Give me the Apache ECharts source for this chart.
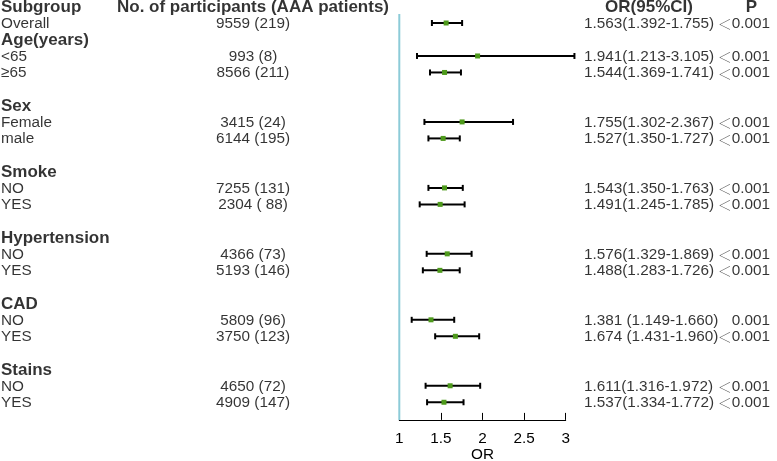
<!DOCTYPE html>
<html>
<head>
<meta charset="utf-8">
<script src="https://cdn.jsdelivr.net/npm/echarts@6/dist/echarts.min.js"></script>
<style>html,body{margin:0;padding:0;background:#fff}#c{width:777px;height:461px}</style>
</head>
<body>
<div id="c"></div>
<script>
// ---------- data ----------
const headers = ['Subgroup', 'No. of participants (AAA patients)', 'OR(95%CI)', 'P'];
const subgroups = ['Overall','Age(years)','<65','≥65','','Sex','Female','male','','Smoke','NO','YES','','Hypertension','NO','YES','','CAD','NO','YES','','Stains','NO','YES'];
const groupHeader = [false,true,false,false,false,true,false,false,false,true,false,false,false,true,false,false,false,true,false,false,false,true,false,false];
const participants = ['9559 (219)','','993 (8)','8566 (211)','','','3415 (24)','6144 (195)','','','7255 (131)','2304 ( 88)','','','4366 (73)','5193 (146)','','','5809 (96)','3750 (123)','','','4650 (72)','4909 (147)'];
const orMean  = [1.563,null,1.941,1.544,null,null,1.755,1.527,null,null,1.543,1.491,null,null,1.576,1.488,null,null,1.381,1.674,null,null,1.611,1.537];
const orLower = [1.392,null,1.213,1.369,null,null,1.302,1.350,null,null,1.350,1.245,null,null,1.329,1.283,null,null,1.149,1.431,null,null,1.316,1.334];
const orUpper = [1.755,null,3.105,1.741,null,null,2.367,1.727,null,null,1.763,1.785,null,null,1.869,1.726,null,null,1.660,1.960,null,null,1.972,1.772];
const orText = ['1.563(1.392-1.755)','','1.941(1.213-3.105)','1.544(1.369-1.741)','','','1.755(1.302-2.367)','1.527(1.350-1.727)','','','1.543(1.350-1.763)','1.491(1.245-1.785)','','','1.576(1.329-1.869)','1.488(1.283-1.726)','','','1.381 (1.149-1.660)','1.674 (1.431-1.960)','','','1.611(1.316-1.972)','1.537(1.334-1.772)'];
const pText = ['＜0.001','','＜0.001','＜0.001','','','＜0.001','＜0.001','','','＜0.001','＜0.001','','','＜0.001','＜0.001','','','0.001','＜0.001','','','＜0.001','＜0.001'];
const xTicks = [1, 1.5, 2, 2.5, 3];
const refValue = 1;

// ---------- layout ----------
const FONT = "'Liberation Sans', Arial, 'Noto Sans CJK SC', sans-serif";
const CJK = "'Noto Sans CJK SC', sans-serif";
const ROW0_Y = 6.5, ROW_H = 16.49, N_ROWS = 25.07;
const COL = {subgroup: 1, part: 253, orHead: 649, orText: 584, pHead: 751.5, pText: 770};
const GREEN = '#4e9a1c';

const textItems = [];
function addText(x, row, text, bold, align) {
  if (!text) return;
  const hasLt = text.charAt(0) === '＜';
  textItems.push({
    value: [x, row], name: text,
    label: {show: true, position: 'inside',
            formatter: hasLt ? '{lt|＜}' + text.slice(1) : text,
            align: align, verticalAlign: 'middle',
            fontFamily: FONT, fontSize: bold ? 17 : 15.3, fontWeight: bold ? 'bold' : 'normal', color: '#000',
            rich: {lt: {fontFamily: CJK, fontSize: 14, color: '#222', fontWeight: 'lighter'}}}
  });
}
addText(COL.subgroup, 0, headers[0], true, 'left');
addText(COL.part, 0, headers[1], true, 'center');
addText(COL.orHead, 0, headers[2], true, 'center');
addText(COL.pHead, 0, headers[3], true, 'center');
subgroups.forEach((s, i) => {
  const row = i + 1;
  addText(COL.subgroup, row, s, groupHeader[i], 'left');
  addText(COL.part, row, participants[i], false, 'center');
  addText(COL.orText, row, orText[i], false, 'left');
  addText(COL.pText, row, pText[i], false, 'right');
});

const forestData = [];
orMean.forEach((m, i) => { if (m != null) forestData.push([i + 1, m, orLower[i], orUpper[i]]); });

const yAxisBase = {type: 'value', inverse: true, min: 0, max: N_ROWS, show: false};
const gridH = ROW_H * N_ROWS;

const chart = echarts.init(document.getElementById('c'), null, {renderer: 'canvas'});
chart.setOption({
  animation: false,
  backgroundColor: '#fff',
  textStyle: {fontFamily: FONT},
  grid: [
    {left: 399.3, width: 166.4, top: ROW0_Y, height: gridH, containLabel: false, outerBoundsMode: 'none'},
    {left: 0, width: 777, top: ROW0_Y + 0.8, height: gridH, containLabel: false, outerBoundsMode: 'none'}
  ],
  xAxis: [
    {type: 'value', gridIndex: 0, position: 'bottom',
     min: xTicks[0], max: xTicks[xTicks.length - 1], interval: 0.5,
     splitLine: {show: false},
     axisLine: {show: true, onZero: false, lineStyle: {color: '#000', width: 1}},
     axisTick: {show: true, inside: true, length: 7, lineStyle: {color: '#000', width: 1}},
     axisLabel: {color: '#000', fontSize: 15.3, fontFamily: FONT, margin: 11},
     name: 'OR', nameLocation: 'middle', nameGap: 35, nameMoveOverlap: false,
     nameTextStyle: {color: '#000', fontSize: 15.3, fontFamily: FONT, verticalAlign: 'middle'}},
    {type: 'value', gridIndex: 1, min: 0, max: 777, show: false}
  ],
  yAxis: [
    Object.assign({gridIndex: 0}, yAxisBase),
    Object.assign({gridIndex: 1}, yAxisBase)
  ],
  series: [
    {type: 'line', xAxisIndex: 0, yAxisIndex: 0, symbol: 'none', silent: true,
     data: [[refValue, 0.45], [refValue, N_ROWS]],
     lineStyle: {color: '#8ccbd8', width: 2}},
    {type: 'custom', xAxisIndex: 0, yAxisIndex: 0, clip: false,
     encode: {x: [1, 2, 3], y: 0},
     data: forestData,
     renderItem: function (params, api) {
       const row = api.value(0), m = api.value(1), lo = api.value(2), hi = api.value(3);
       const pL = api.coord([lo, row]), pH = api.coord([hi, row]), pM = api.coord([m, row]);
       const st = {stroke: '#000', lineWidth: 2};
       return {type: 'group', children: [
         {type: 'line', shape: {x1: pL[0], y1: pL[1], x2: pH[0], y2: pH[1]}, style: st},
         {type: 'line', shape: {x1: pL[0], y1: pL[1] - 3, x2: pL[0], y2: pL[1] + 3}, style: st},
         {type: 'line', shape: {x1: pH[0], y1: pH[1] - 3, x2: pH[0], y2: pH[1] + 3}, style: st},
         {type: 'rect', shape: {x: pM[0] - 2.5, y: pM[1] - 2.5, width: 5, height: 5}, style: {fill: GREEN}}
       ]};
     }},
    {type: 'scatter', xAxisIndex: 1, yAxisIndex: 1, symbolSize: 1, silent: true,
     itemStyle: {color: 'rgba(0,0,0,0)'},
     data: textItems}
  ]
});
</script>
</body>
</html>
